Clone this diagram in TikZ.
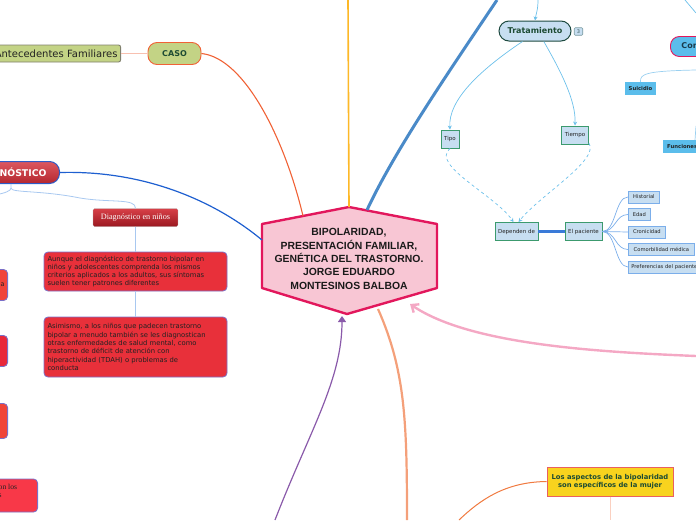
\documentclass[tikz,border=0pt]{standalone}
\usepackage{fontspec}
\setmainfont{DejaVu Sans}
\newfontfamily\arialb{Liberation Sans}
\newfontfamily\timesf{Liberation Serif}
\usetikzlibrary{arrows.meta}
\definecolor{cfill}{HTML}{F8C6D4}
\definecolor{cborder}{HTML}{E2175C}
\definecolor{casofill}{HTML}{C3D385}
\definecolor{casoborder}{HTML}{F06236}
\definecolor{anteborder}{HTML}{7F7F6C}
\definecolor{dgfill}{HTML}{D42E38}
\definecolor{dgborder}{HTML}{2C5CC8}
\definecolor{redbox}{HTML}{E8303A}
\definecolor{redborder}{HTML}{7A70C8}
\definecolor{lbfill}{HTML}{C7DEF1}
\definecolor{trborder}{HTML}{1E4A40}
\definecolor{tipoborder}{HTML}{3C9A6E}
\definecolor{kidborder}{HTML}{7BAEEA}
\definecolor{sky}{HTML}{5BBDEB}
\definecolor{yel}{HTML}{F8D31E}
\definecolor{yelborder}{HTML}{E96060}
\definecolor{dkgreen}{HTML}{1D4B33}
\definecolor{lbline}{HTML}{6CC0EA}
\definecolor{txt}{HTML}{222222}
\definecolor{thickblue}{HTML}{4A8AC8}
\definecolor{golden}{HTML}{FDB827}
\definecolor{diagline}{HTML}{1E5FD0}
\definecolor{purp}{HTML}{8A5AAA}
\definecolor{salmon}{HTML}{F4A07A}
\definecolor{pinkline}{HTML}{F4A8C4}
\definecolor{orangeline}{HTML}{F07A40}
\definecolor{paleline}{HTML}{FAD0C0}
\definecolor{paleblue}{HTML}{A8C8F0}
\definecolor{elblue}{HTML}{3A7AD8}
\definecolor{ninotop}{HTML}{D84048}
\definecolor{ninobot}{HTML}{9A1820}
\definecolor{lbA}{HTML}{F0443A}
\definecolor{lbB}{HTML}{E8283A}
\definecolor{lbC}{HTML}{F04438}
\definecolor{lbD}{HTML}{F83848}
\definecolor{hextext}{HTML}{1A1A1A}
\definecolor{badgeborder}{HTML}{7A9AA0}
\definecolor{badgetext}{HTML}{335555}
\definecolor{comptext}{HTML}{1A3A4A}
\definecolor{anteline}{HTML}{F8C0B0}
\definecolor{suiline}{HTML}{9AD0F0}
\tikzset{
  pill/.style={rounded corners=9pt, line width=0.9pt, inner sep=0pt, font=\bfseries\fontsize{8}{9}\selectfont},
  kidbox/.style={draw=kidborder, fill=lbfill, line width=0.8pt, inner sep=0pt, font=\fontsize{5.2}{6}\selectfont, text=txt, anchor=west},
  greenbox/.style={draw=tipoborder, fill=lbfill, line width=0.9pt, inner sep=0pt, font=\fontsize{5.5}{6}\selectfont, text=txt},
  redtxt/.style={draw=redborder, fill=redbox, rounded corners=4pt, line width=0.8pt, inner sep=0pt, text=txt},
  lbconn/.style={draw=lbline, line width=0.7pt},
  skybox/.style={fill=sky, inner sep=0pt, font=\bfseries\fontsize{5.3}{6}\selectfont, text=txt},
  sidebox/.style={draw=redborder, rounded corners=4pt, line width=0.8pt, inner sep=0pt, minimum width=40pt, anchor=east},
}
\begin{document}
\begin{tikzpicture}[x=1pt,y=-1pt]
\useasboundingbox (0,0) rectangle (696,520);
\clip (0,0) rectangle (696,520);

% ---------- hexagon anchor points ----------
\coordinate (h1) at (262,224);
\coordinate (h2) at (349,207);
\coordinate (h3) at (437,224);
\coordinate (h4) at (437,288);
\coordinate (h5) at (347,314);
\coordinate (h6) at (262,288);
\coordinate (hsl) at (303,216);
\coordinate (hsr) at (367,210);
\coordinate (hleft) at (262,240);
\coordinate (hbl) at (342,316);
\coordinate (hbr) at (378,309);
\coordinate (hrb) at (410,304);

% ---------- outer free ends ----------
\coordinate (ytop) at (348,0);
\coordinate (btop) at (497,0);
\coordinate (pbot) at (275,520);
\coordinate (sbot) at (407,520);
\coordinate (pright) at (696,356);
\coordinate (obot) at (459,520);
\coordinate (vbot) at (610,520);
\coordinate (trtop) at (538,0);
\coordinate (tr1) at (685,0);
\coordinate (tr2) at (696,13);
\coordinate (suiR) at (696,70);
\coordinate (funB) at (695,140);
\coordinate (funT) at (696,126);
\coordinate (dgfork) at (11,188);
\coordinate (dgleft) at (-5,195);

% ---------- nodes ----------
\node[pill, draw=casoborder, fill=casofill, text=dkgreen, minimum width=53pt, minimum height=22pt] (caso) at (174.5,53.5) {CASO};
\node[draw=anteborder, fill=casofill, rounded corners=2pt, line width=0.9pt, inner sep=0pt, minimum height=17pt, text width=140pt, align=right, anchor=east, font=\fontsize{10}{11}\selectfont, text=txt] (ante) at (121,53.5) {Antecedentes Familiares\hspace*{3pt}};

\node[rounded corners=10pt, draw=dgborder, line width=1pt, top color=dgfill!80!white, bottom color=dgfill!85!black, text=white, inner sep=0pt, minimum height=22pt, text width=110pt, align=right, anchor=east, font=\bfseries\fontsize{9.3}{10}\selectfont] (diag) at (60,172.5) {DIAGNÓSTICO\hspace*{13pt}};

\node[top color=ninotop, bottom color=ninobot, draw=white!70!black, line width=0.3pt, rounded corners=1.5pt, inner sep=0pt, minimum width=85pt, minimum height=18pt, text=white, font=\timesf\fontsize{8.2}{9}\selectfont] (ninos) at (135.5,217.5) {Diagnóstico en niños};

\node[redtxt, minimum width=183pt, minimum height=39pt, text width=176pt, align=left, font=\fontsize{6.8}{8.3}\selectfont] (aunque) at (135.5,271.5) {Aunque el diagnóstico de trastorno bipolar en\\niños y adolescentes comprenda los mismos\\criterios aplicados a los adultos, sus síntomas\\suelen tener patrones diferentes};

\node[redtxt, minimum width=183pt, minimum height=60pt, text width=176pt, align=left, font=\fontsize{6.8}{8.3}\selectfont] (asim) at (135.5,347) {Asimismo, a los niños que padecen trastorno\\bipolar a menudo también se les diagnostican\\otras enfermedades de salud mental, como\\trastorno de déficit de atención con\\hiperactividad (TDAH) o problemas de\\conducta};

% left partial boxes
\node[sidebox, fill=lbA, minimum height=31pt, text width=38pt, align=right, font=\fontsize{6.5}{7}\selectfont, text=txt] (lb1) at (8,285) {a\hspace*{2pt}};
\node[sidebox, fill=lbB, minimum height=31pt] (lb2) at (8,351) {};
\node[sidebox, fill=lbC, minimum height=35pt] (lb3) at (8,421) {};
\node[sidebox, fill=lbD, minimum height=33pt, minimum width=70pt] (lb4) at (38,495.5) {};
\node[anchor=north west, inner sep=0pt, align=left, font=\timesf\fontsize{7.6}{8.3}\selectfont, text=txt] (lb4t) at (-1.5,484) {on los\\s};

% central hexagon
\draw[fill=cfill, draw=cborder, line width=2.4pt, line join=round] (h1) -- (h2) -- (h3) -- (h4) -- (h5) -- (h6) -- cycle;
\node[align=center, font=\arialb\bfseries\fontsize{10.4}{13.3}\selectfont, text=hextext] (center) at (349,259) {BIPOLARIDAD,\\PRESENTACIÓN FAMILIAR,\\GENÉTICA DEL TRASTORNO.\\JORGE EDUARDO\\MONTESINOS BALBOA};

% right side
\node[pill, draw=trborder, fill=lbfill, text=dkgreen, minimum width=72pt, minimum height=20pt, rounded corners=10pt, line width=1pt] (trat) at (535,31) {Tratamiento};
\node[draw=badgeborder, fill=lbfill, rounded corners=1pt, line width=0.6pt, inner sep=0pt, minimum width=8.5pt, minimum height=7.5pt, font=\fontsize{5}{5}\selectfont, text=badgetext] (badge) at (578.5,31.5) {3};

\node[greenbox, minimum width=18pt, minimum height=18pt] (tipo) at (450,139) {Tipo};
\node[greenbox, minimum width=27pt, minimum height=18pt] (tiempo) at (575,135) {Tiempo};
\node[greenbox, minimum width=43pt, minimum height=18pt] (dep) at (516.5,231.5) {Dependen de};
\node[greenbox, minimum width=37pt, minimum height=18pt] (pac) at (583.5,231.5) {El paciente};

\node[kidbox, minimum width=31pt, minimum height=12pt] (hist) at (628,197) {Historial};
\node[kidbox, minimum width=22pt, minimum height=12pt] (edad) at (628,214.5) {Edad};
\node[kidbox, minimum width=37pt, minimum height=12pt] (cron) at (628,232) {Cronicidad};
\node[kidbox, minimum width=66pt, minimum height=12pt] (comor) at (628,249.5) {Comorbilidad médica};
\node[kidbox, minimum width=80pt, minimum height=12pt, text width=78pt, align=left] (pref) at (628,267) {\hspace*{2pt}Preferencias del paciente};

\node[pill, draw=cborder, fill=sky, text=comptext, minimum height=20pt, minimum width=100pt, anchor=west, text width=100pt, align=left] (compl) at (670,46.5) {\hspace*{11pt}Complicaciones};
\node[skybox, minimum width=31pt, minimum height=13pt] (sui) at (640.5,88.5) {Suicidio};
\node[skybox, minimum width=50pt, minimum height=13pt, anchor=west, text width=48pt, align=left] (fun) at (663,146.5) {\hspace*{3pt}Funciones};

\node[draw=yelborder, fill=yel, line width=1pt, inner sep=0pt, minimum width=126pt, minimum height=29pt, align=center, font=\bfseries\fontsize{6.8}{8}\selectfont, text=dkgreen] (mujer) at (610,481.5) {Los aspectos de la bipolaridad\\son específicos de la mujer};

% ---------- connectors ----------
\draw[color=casoborder, line width=1.1pt] (caso.east) .. controls (245,58) and (285,140) .. (hsl);
\draw[color=anteline, line width=1pt] (ante.east) -- (caso.west);
\draw[color=golden, line width=1.6pt] (ytop) -- (h2);
\draw[color=thickblue, line width=3pt] (hsr) .. controls (395,150) and (450,70) .. (btop);
\draw[color=diagline, line width=1.2pt] (diag.east) .. controls (150,170) and (220,205) .. (hleft);
\draw[color=purp, line width=1.2pt, -{Triangle[length=6pt,width=8pt]}] (pbot) .. controls (310,430) and (342,380) .. (hbl);
\draw[color=salmon, line width=2.2pt] (hbr) .. controls (405,370) and (407,420) .. (sbot);
\draw[color=pinkline, line width=2.4pt, -{Straight Barb[length=6pt,width=10pt]}] (pright) .. controls (600,352) and (470,345) .. (hrb);
\draw[color=orangeline, line width=1pt] (mujer.west) .. controls (505,482) and (480,500) .. (obot);
\draw[color=paleline, line width=1pt] (mujer.south) -- (vbot);

\draw[color=paleblue, line width=0.8pt] (diag.south -| dgfork) -- (dgfork) .. controls (11,191) and (5,193) .. (dgleft);
\draw[color=paleblue, line width=0.8pt] (dgfork) .. controls (11,193) and (40,190) .. (80,198) .. controls (110,203) and (136,198) .. (ninos.north);
\draw[color=paleblue, line width=1.2pt] (ninos.south) -- (aunque.north);
\draw[color=paleblue, line width=1.2pt] (aunque.south) -- (asim.north);

\draw[lbconn, -{Stealth[length=4pt,width=4pt]}] (trtop) .. controls (538,10) and (536,14) .. (trat.north);
\draw[lbconn] (tr1) -- (tr2);
\draw[lbconn, -{Stealth[length=4pt,width=4pt]}] (trat.220) .. controls (480,70) and (448,100) .. (tipo.north);
\draw[lbconn, -{Stealth[length=4pt,width=4pt]}] (trat.-50) .. controls (560,70) and (576,100) .. (tiempo.north);
\draw[lbconn, dashed, -{Stealth[length=4pt,width=4pt]}] (tipo.south) .. controls (430,165) and (495,195) .. ([xshift=-3pt]dep.north);
\draw[lbconn, dashed, -{Stealth[length=4pt,width=4pt]}] (tiempo.-30) .. controls (600,160) and (540,195) .. ([xshift=2pt]dep.north);
\draw[color=elblue, line width=2.2pt] (dep.east) -- (pac.west);
\foreach \k in {hist,edad,cron,comor,pref}{
  \draw[color=kidborder, line width=0.7pt] (pac.east) .. controls (616,231.5) and ([xshift=-13pt]\k.west) .. (\k.west);
}
\draw[lbconn, color=suiline] (sui.north) .. controls (640,74) and (645,71) .. (suiR);
\draw[lbconn, color=suiline] (funB) -- (funT);
\end{tikzpicture}
\end{document}
